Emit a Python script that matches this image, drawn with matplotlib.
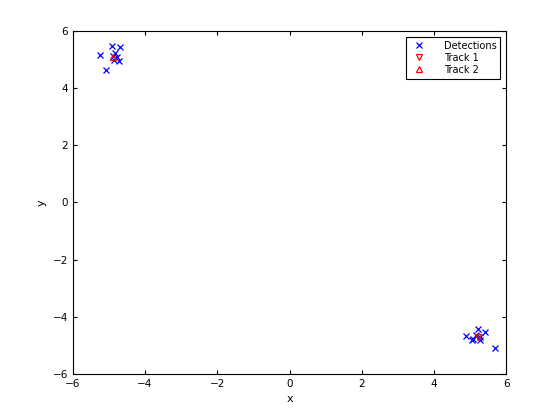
import matplotlib
matplotlib.use('Agg')
import matplotlib.pyplot as plt

# detections (two clusters)
det_x = [-5.25, -4.91, -4.68, -4.82, -4.88, -4.86, -4.73, -5.07, -4.78,
         4.88, 5.07, 5.04, 5.23, 5.40, 5.28, 5.28, 5.68, 5.16]
det_y = [5.16, 5.49, 5.43, 5.25, 5.14, 4.99, 4.96, 4.64, 5.09,
         -4.66, -4.78, -4.82, -4.43, -4.52, -4.70, -4.81, -5.08, -4.64]
track1_x = [5.21]
track1_y = [-4.72]
track2_x = [-4.90]
track2_y = [5.10]

fig = plt.figure(figsize=(5.6, 4.2), dpi=100)
ax = fig.add_axes([0.130, 0.110, 0.774, 0.816])
ax.plot(det_x, det_y, 'x', color='blue', markersize=5, markeredgewidth=0.9, label='Detections')
ax.plot(track1_x, track1_y, 'v', color='red', markerfacecolor='none', markersize=5, markeredgewidth=0.9, label='Track 1')
ax.plot(track2_x, track2_y, '^', color='red', markerfacecolor='none', markersize=5, markeredgewidth=0.9, label='Track 2')

ax.set_xlim(-6, 6)
ax.set_ylim(-6, 6)
ax.set_xticks(range(-6, 7, 2))
ax.set_yticks(range(-6, 7, 2))
ax.tick_params(direction='in', top=True, right=True, labelsize=7.5, length=3)
ax.set_xlabel('x', fontsize=8)
ax.set_ylabel('y', fontsize=8)
leg = ax.legend(loc='upper right', fontsize=7, fancybox=False, edgecolor='black',
                framealpha=1, borderaxespad=0.6, handletextpad=1.5, labelspacing=0.2)
leg.get_frame().set_linewidth(0.8)

fig.savefig('out.png', dpi=100)
